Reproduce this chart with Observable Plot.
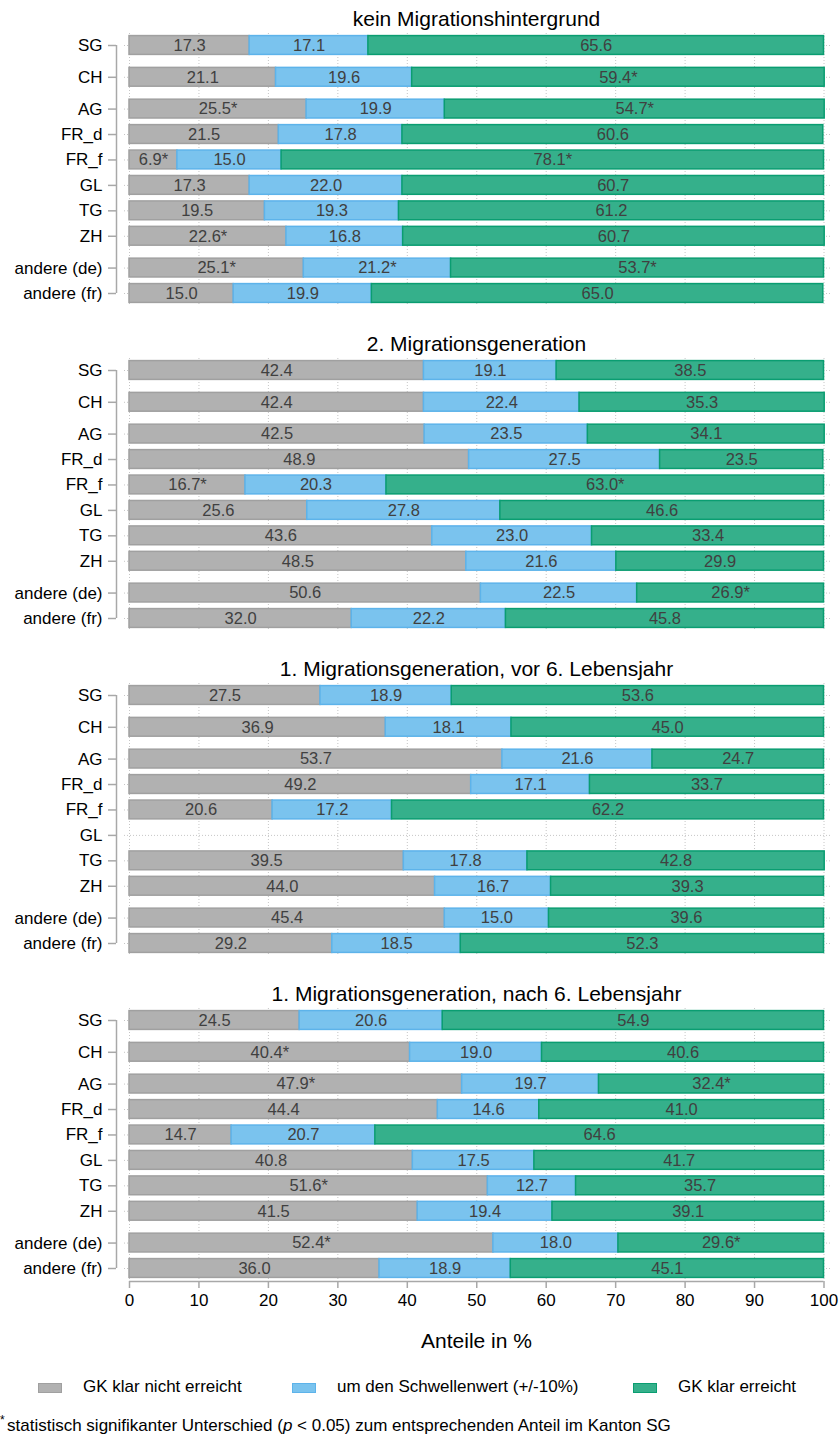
<!DOCTYPE html>
<html>
<head>
<meta charset="utf-8">
<script src="https://cdn.jsdelivr.net/npm/d3@7"></script>
<script src="https://cdn.jsdelivr.net/npm/@observablehq/plot@0.6"></script>
<style>
  html, body { margin: 0; padding: 0; background: #fff; }
  body { width: 840px; height: 1434px; position: relative; overflow: hidden; font-family: "Liberation Sans", Arial, sans-serif; }
  #charts svg { display: block; }
  .leg { position: absolute; top: 1376px; height: 22px; line-height: 22px; font-size: 17px; color: #000; white-space: nowrap; }
  .sw { position: absolute; top: 7px; left: 0; width: 22px; height: 8px; border-width: 1.5px; border-style: solid; }
  .leg span.t { position: absolute; left: 45px; top: 0; }
  #caption { position: absolute; top: 1415px; left: 7px; font-size: 17px; line-height: 22px; white-space: nowrap; color: #000; }
  #star { position: absolute; top: 1413px; left: 0px; font-size: 12px; line-height: 14px; color: #000; }
</style>
</head>
<body>
<div id="charts"></div>
<div class="leg" style="left:38px"><div class="sw" style="background:#b1b1b1;border-color:#a0a0a0"></div><span class="t">GK klar nicht erreicht</span></div>
<div class="leg" style="left:292px"><div class="sw" style="background:#7ac3ee;border-color:#5db3ea"></div><span class="t">um den Schwellenwert (+/-10%)</span></div>
<div class="leg" style="left:633px"><div class="sw" style="background:#35b08b;border-color:#0a9d71"></div><span class="t">GK klar erreicht</span></div>
<div id="star">*</div>
<div id="caption">statistisch signifikanter Unterschied (<i>p</i> &lt; 0.05) zum entsprechenden Anteil im Kanton SG</div>
<script>
// ---------- data ----------
const cantons = ["SG", "CH", "AG", "FR_d", "FR_f", "GL", "TG", "ZH", "andere (de)", "andere (fr)"];
const gapBefore = ["CH", "AG", "andere (de)"];
const categories = ["GK klar nicht erreicht", "um den Schwellenwert (+/-10%)", "GK klar erreicht"];
const facetTitles = [
  "kein Migrationshintergrund",
  "2. Migrationsgeneration",
  "1. Migrationsgeneration, vor 6. Lebensjahr",
  "1. Migrationsgeneration, nach 6. Lebensjahr"
];
const xTicks = [0, 10, 20, 30, 40, 50, 60, 70, 80, 90, 100];

// kein Migrationshintergrund
const kein_nicht = [17.3, 21.1, 25.5, 21.5, 6.9, 17.3, 19.5, 22.6, 25.1, 15.0];
const kein_um    = [17.1, 19.6, 19.9, 17.8, 15.0, 22.0, 19.3, 16.8, 21.2, 19.9];
const kein_klar  = [65.6, 59.4, 54.7, 60.6, 78.1, 60.7, 61.2, 60.7, 53.7, 65.0];
const kein_nicht_sig = [0, 0, 1, 0, 1, 0, 0, 1, 1, 0];
const kein_um_sig    = [0, 0, 0, 0, 0, 0, 0, 0, 1, 0];
const kein_klar_sig  = [0, 1, 1, 0, 1, 0, 0, 0, 1, 0];

// 2. Migrationsgeneration
const gen2_nicht = [42.4, 42.4, 42.5, 48.9, 16.7, 25.6, 43.6, 48.5, 50.6, 32.0];
const gen2_um    = [19.1, 22.4, 23.5, 27.5, 20.3, 27.8, 23.0, 21.6, 22.5, 22.2];
const gen2_klar  = [38.5, 35.3, 34.1, 23.5, 63.0, 46.6, 33.4, 29.9, 26.9, 45.8];
const gen2_nicht_sig = [0, 0, 0, 0, 1, 0, 0, 0, 0, 0];
const gen2_um_sig    = [0, 0, 0, 0, 0, 0, 0, 0, 0, 0];
const gen2_klar_sig  = [0, 0, 0, 0, 1, 0, 0, 0, 1, 0];

// 1. Migrationsgeneration, vor 6. Lebensjahr (GL: keine Daten)
const vor6_nicht = [27.5, 36.9, 53.7, 49.2, 20.6, null, 39.5, 44.0, 45.4, 29.2];
const vor6_um    = [18.9, 18.1, 21.6, 17.1, 17.2, null, 17.8, 16.7, 15.0, 18.5];
const vor6_klar  = [53.6, 45.0, 24.7, 33.7, 62.2, null, 42.8, 39.3, 39.6, 52.3];
const vor6_nicht_sig = [0, 0, 0, 0, 0, 0, 0, 0, 0, 0];
const vor6_um_sig    = [0, 0, 0, 0, 0, 0, 0, 0, 0, 0];
const vor6_klar_sig  = [0, 0, 0, 0, 0, 0, 0, 0, 0, 0];

// 1. Migrationsgeneration, nach 6. Lebensjahr
const nach6_nicht = [24.5, 40.4, 47.9, 44.4, 14.7, 40.8, 51.6, 41.5, 52.4, 36.0];
const nach6_um    = [20.6, 19.0, 19.7, 14.6, 20.7, 17.5, 12.7, 19.4, 18.0, 18.9];
const nach6_klar  = [54.9, 40.6, 32.4, 41.0, 64.6, 41.7, 35.7, 39.1, 29.6, 45.1];
const nach6_nicht_sig = [0, 1, 1, 0, 0, 0, 1, 0, 1, 0];
const nach6_um_sig    = [0, 0, 0, 0, 0, 0, 0, 0, 0, 0];
const nach6_klar_sig  = [0, 0, 1, 0, 0, 0, 0, 0, 1, 0];

const facetValues = [
  [[kein_nicht, kein_nicht_sig], [kein_um, kein_um_sig], [kein_klar, kein_klar_sig]],
  [[gen2_nicht, gen2_nicht_sig], [gen2_um, gen2_um_sig], [gen2_klar, gen2_klar_sig]],
  [[vor6_nicht, vor6_nicht_sig], [vor6_um, vor6_um_sig], [vor6_klar, vor6_klar_sig]],
  [[nach6_nicht, nach6_nicht_sig], [nach6_um, nach6_um_sig], [nach6_klar, nach6_klar_sig]]
];

// ---------- styles ----------
const fills   = ["#b1b1b1", "#7ac3ee", "#35b08b"];
const strokes = ["#a0a0a0", "#5db3ea", "#0a9d71"];
const FONT = "'Liberation Sans', Arial, sans-serif";

// row slots (extra spacing before some groups)
const rows = [];
{
  let p = 0;
  cantons.forEach((c, i) => {
    if (i > 0) p += 1 + (gapBefore.includes(c) ? 0.25 : 0);
    rows.push({canton: c, pos: p});
  });
}
const posOf = new Map(rows.map(r => [r.canton, r.pos]));
const nameOf = new Map(rows.map(r => [r.pos, r.canton]));
const maxPos = d3.max(rows, r => r.pos);
const half = 0.37;

function segmentsFor(fi) {
  const segs = [];
  cantons.forEach((c, i) => {
    let acc = 0;
    facetValues[fi].forEach(([vals, sig], k) => {
      const v = vals[i];
      if (v == null) return;
      segs.push({
        canton: c, pos: posOf.get(c), cat: k,
        x1: acc, x2: acc + v, mid: acc + v / 2,
        label: v.toFixed(1) + (sig[i] ? "*" : "")
      });
      acc += v;
    });
  });
  return segs;
}

function facetPlot(fi, last) {
  const segs = segmentsFor(fi);
  const H = last ? 380 : 325;
  const marks = [
    Plot.ruleY(rows, {y: "pos", stroke: "#c6c6c6", strokeDasharray: "1,2"}),
    Plot.ruleX(xTicks, {stroke: "#c6c6c6", strokeDasharray: "1,2"}),
    Plot.ruleX([0], {y1: 0, y2: maxPos, dx: -13, stroke: "#a8a8a8", strokeWidth: 1.5}),
    Plot.axisY({
      ticks: rows.map(r => r.pos), tickFormat: p => nameOf.get(p),
      tickSize: 8, tickPadding: 6, dx: -8, fontSize: 17,
      stroke: "#a8a8a8", strokeWidth: 1.5, fill: "#000", label: null
    })
  ];
  categories.forEach((cat, k) => {
    marks.push(Plot.rectX(segs.filter(d => d.cat === k), {
      x1: "x1", x2: "x2",
      y1: d => d.pos - half, y2: d => d.pos + half,
      fill: fills[k], stroke: strokes[k], strokeWidth: 1.5
    }));
  });
  marks.push(Plot.text(segs, {x: "mid", y: "pos", text: "label", fill: "#404040", fontSize: 16.5}));
  marks.push(Plot.text([facetTitles[fi]], {frameAnchor: "top", lineAnchor: "bottom", dy: -8, dx: -2, fontSize: 21, fill: "#000"}));
  if (last) {
    marks.push(Plot.ruleY([maxPos], {x1: 0, x2: 100, dy: 13, stroke: "#a8a8a8", strokeWidth: 1.5}));
    marks.push(Plot.axisX({ticks: xTicks, tickSize: 7, tickPadding: 5, fontSize: 17, stroke: "#a8a8a8", strokeWidth: 1.5, fill: "#000", label: null}));
    marks.push(Plot.text(["Anteile in %"], {frameAnchor: "bottom", lineAnchor: "bottom", dy: 66, dx: -2, fontSize: 21, fill: "#000"}));
  }
  return Plot.plot({
    width: 840, height: H,
    marginTop: 33, marginBottom: H - 306, marginLeft: 124, marginRight: 8,
    style: {fontFamily: FONT, fontSize: "17px", background: "#fff", overflow: "visible"},
    x: {domain: [0, 100], insetLeft: 5, insetRight: 8.5, axis: null},
    y: {domain: [0, maxPos], reverse: true, insetTop: 12, insetBottom: 13, axis: null},
    marks
  });
}

const container = document.getElementById("charts");
facetTitles.forEach((t, fi) => {
  container.appendChild(facetPlot(fi, fi === facetTitles.length - 1));
});
</script>
</body>
</html>
